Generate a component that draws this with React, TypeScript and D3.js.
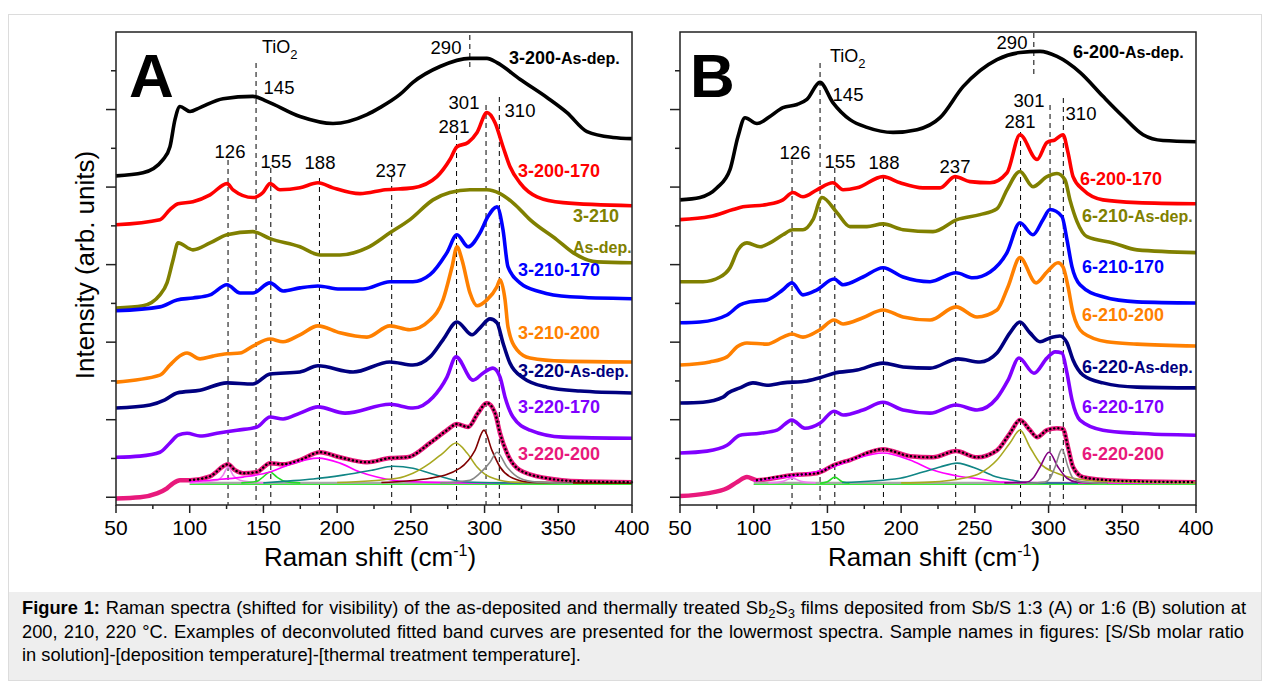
import React, { useLayoutEffect, useRef } from "react";
import * as d3 from "d3";

type Pt = [number, number];

const FONT = "'Liberation Sans', Arial, Helvetica, sans-serif";

// axis ticks
const xMajor = [50, 100, 150, 200, 250, 300, 350, 400];
const xMinor = [75, 125, 175, 225, 275, 325, 375];
const yTickVals = [0, 1, 2, 3, 4, 5, 6, 7, 8, 9, 10, 11];

// band positions (cm-1)
const peaks = [126, 145, 155, 188, 237, 281, 301, 310];
const broadPeak = 290;

// ---------- panel A : Sb/S 1:3 ----------
const a200AsDep: Pt[] = [[50,8.29],[68.3,8.37],[81.9,8.71],[86.6,9.04],[90,9.74],[93.4,10.08],[100.2,9.95],[107,10.05],[122.6,10.28],[142.9,10.34],[152.4,10.21],[174.8,9.82],[197.2,9.64],[220.2,9.87],[229,10.05],[242.6,10.39],[251.4,10.7],[269.8,11.11],[290.1,11.32],[301.6,11.32],[308.4,11.21],[324,10.78],[342.3,10.31],[355.9,9.92],[369.5,9.43],[387.1,9.28],[400,9.25]];
const a200_170: Pt[] = [[50,7.03],[79.8,7.16],[86.6,7.42],[92.1,7.57],[102.2,7.62],[113.8,7.8],[125.3,8.09],[129.4,7.93],[142.9,7.73],[149.7,7.86],[154.5,8.09],[161.2,7.93],[174.8,7.98],[187,8.11],[197.2,7.98],[215.5,7.83],[232.5,7.93],[251.4,7.98],[267.7,8.27],[276.5,8.71],[281.3,9.04],[288.8,9.15],[294.9,9.41],[301.6,9.92],[307.1,9.66],[312.5,9.04],[317.2,8.53],[324,8.11],[335.6,7.75],[353.2,7.6],[400,7.52]];
const a210AsDep: Pt[] = [[50,4.88],[68.3,4.94],[79.8,5.22],[84.6,5.53],[88.7,6.12],[92.1,6.56],[102.2,6.38],[113.8,6.56],[125.3,6.77],[142.9,6.85],[154.5,6.67],[174.8,6.46],[188.4,6.25],[201.9,6.25],[220.2,6.43],[235.8,6.82],[249.4,7.16],[265,7.67],[276.5,7.86],[290.1,7.93],[301.6,7.93],[310.5,7.83],[320.6,7.55],[330.8,7.16],[349.1,6.64],[360,6.31],[376.3,6.07],[400,6.05]];
const a210_170: Pt[] = [[50,4.81],[79.8,4.91],[91.4,5.09],[102.2,5.14],[113.8,5.22],[125.3,5.48],[134.1,5.27],[142.9,5.27],[154.5,5.53],[163.3,5.32],[174.8,5.4],[187,5.45],[201.9,5.37],[217.5,5.37],[235.8,5.56],[251.4,5.56],[263,5.74],[274.5,6.31],[281.3,6.77],[288.8,6.46],[296.9,6.82],[302.3,7.24],[308.4,7.49],[312.5,6.9],[315.9,5.94],[324,5.53],[337.6,5.3],[357.9,5.17],[400,5.12]];
const a210_200: Pt[] = [[50,2.97],[79.8,3.15],[86.6,3.41],[91.4,3.59],[98.2,3.72],[107,3.57],[115.8,3.64],[125.3,3.7],[134.1,3.72],[142.9,3.9],[154.5,4.08],[163.3,4.01],[174.8,4.19],[187,4.42],[201.9,4.24],[220.2,4.13],[235.8,4.42],[249.4,4.32],[263,4.57],[271.8,5.09],[277.9,5.94],[281.3,6.46],[284.7,6.12],[290.1,5.27],[294.9,4.94],[301.6,5.09],[308.4,5.43],[310.5,5.61],[313.9,5.09],[315.9,4.39],[322,3.8],[330.8,3.59],[353.2,3.51],[400,3.49]];
const a220AsDep: Pt[] = [[50,2.3],[73.1,2.38],[83.2,2.51],[91.4,2.69],[107,2.76],[125.3,2.95],[142.9,2.92],[154.5,3.18],[174.8,3.23],[187,3.39],[210.8,3.23],[235.8,3.49],[251.4,3.41],[263,3.62],[271.8,4.06],[281.3,4.52],[291.5,4.19],[296.9,4.37],[303.7,4.6],[308.4,4.5],[312.5,3.98],[317.2,3.46],[326.1,3.08],[342.3,2.84],[364.7,2.74],[400,2.69]];
const a220_170: Pt[] = [[50,1.03],[66.3,1.06],[79.8,1.16],[86.6,1.4],[92.1,1.6],[98.2,1.65],[107,1.58],[118.5,1.65],[132.1,1.73],[145.6,1.81],[154.5,2.07],[163.3,2.02],[174.8,2.17],[187,2.33],[205.3,2.17],[235.8,2.4],[251.4,2.3],[265,2.58],[274.5,3.1],[280.6,3.62],[292.2,3.02],[298.9,3.2],[305.7,3.33],[310.5,3.1],[313.9,2.58],[319.3,2.07],[330.8,1.73],[353.2,1.55],[400,1.52]];
const a220_200: Pt[] = [[50,-0.03],[66.3,0],[77.8,0.1],[84.6,0.23],[88.7,0.36],[93.4,0.44],[100.2,0.44],[113.8,0.54],[126,0.85],[130.7,0.7],[136.1,0.62],[145.6,0.65],[154.5,0.88],[163.3,0.85],[174.8,0.96],[188.4,1.16],[201.9,1.03],[220.2,0.9],[235.8,1.01],[247.4,1.03],[263,1.4],[274.5,1.73],[281.3,1.89],[288.8,1.81],[295.5,2.17],[301.6,2.43],[307.1,2.17],[310.5,1.65],[315.2,1.14],[324,0.7],[342.3,0.49],[364.7,0.41],[400,0.39]];

// fitted bands for 3-220-200
const aBand126: Pt[] = [[100,0.37],[118.5,0.44],[122.6,0.57],[126,0.78],[129.4,0.57],[134.1,0.44],[150,0.37]];
const aBand155: Pt[] = [[135,0.37],[145.6,0.41],[149.7,0.52],[154.5,0.65],[159.2,0.52],[164.6,0.41],[175,0.37]];
const aBand188: Pt[] = [[100,0.4],[113.8,0.44],[136.1,0.52],[154.5,0.65],[170.1,0.88],[187,1.01],[201.9,0.88],[215.5,0.65],[227,0.52],[237.9,0.44],[260,0.39],[300,0.37],[400,0.36]];
const aBand237: Pt[] = [[150,0.37],[163.3,0.41],[183.7,0.47],[204,0.57],[224,0.7],[238,0.8],[251.4,0.75],[263,0.62],[274.5,0.49],[285.4,0.4],[310,0.37],[400,0.36]];
const aBand281: Pt[] = [[200,0.38],[240.6,0.49],[251.4,0.62],[263,0.88],[271.8,1.14],[280.6,1.4],[288.1,1.14],[294.9,0.78],[303.7,0.52],[319.3,0.39],[350,0.37],[400,0.36]];
const aBand301: Pt[] = [[230,0.38],[263,0.49],[283.3,0.75],[293.5,1.21],[299.6,1.73],[305,1.21],[310.5,0.78],[319.3,0.49],[330.8,0.39],[360,0.37],[400,0.36]];
const aBand310: Pt[] = [[270,0.37],[290.1,0.44],[296.9,0.62],[303.7,0.9],[308.4,1.16],[315.2,0.78],[324,0.49],[335.6,0.39],[360,0.36]];
const aBaseline: Pt[] = [[100,0.36],[400,0.36]];

// ---------- panel B : Sb/S 1:6 ----------
const b200AsDep: Pt[] = [[50,7.67],[63.6,7.73],[75.1,7.98],[83.9,8.45],[89.3,9.3],[94.1,9.79],[102.2,9.64],[111,9.82],[119.8,10.05],[129.4,10.13],[136.1,10.26],[144.9,10.7],[153.7,10.18],[165.3,9.74],[176.8,9.54],[194.5,9.41],[210.8,9.48],[226.4,9.79],[242,10.59],[265,11.29],[280.6,11.47],[294.2,11.5],[305.7,11.37],[321.3,10.96],[336.9,10.34],[350.5,9.82],[364.1,9.35],[377.6,9.2],[400,9.17]];
const b200_170: Pt[] = [[50,7.16],[70.3,7.24],[86,7.42],[92.7,7.49],[109,7.55],[119.8,7.67],[126.6,7.86],[133.4,7.75],[142.9,7.93],[153.7,8.11],[160.6,7.93],[170.1,7.98],[187.7,8.27],[199.3,8.11],[214.8,7.98],[226.4,7.98],[236.5,8.27],[246.7,8.14],[260.3,8.11],[271.8,8.37],[280.6,9.35],[292.2,8.71],[298.9,9.15],[304.4,9.22],[309.8,9.35],[313.2,8.89],[316.6,8.27],[323.4,7.93],[336.9,7.67],[360,7.6],[400,7.57]];
const b210AsDep: Pt[] = [[50,5.56],[65.6,5.56],[77.1,5.68],[83.9,5.92],[89.3,6.38],[95.4,6.56],[104.3,6.46],[111,6.56],[119.8,6.77],[126.6,6.9],[133.4,6.9],[140.2,7.16],[146.3,7.73],[156.5,7.34],[165.3,6.98],[176.8,6.98],[187.7,7.05],[201.3,6.9],[221.6,6.85],[237.9,7.16],[253.5,7.29],[265,7.44],[271.8,7.93],[280.6,8.4],[289.4,8.01],[298.9,8.27],[305.7,8.35],[311.1,8.19],[314.5,7.67],[319.3,7.11],[326.1,6.72],[343.7,6.56],[360,6.38],[400,6.31]];
const b210_170: Pt[] = [[50,4.5],[63.6,4.52],[81.9,4.7],[90.7,4.96],[97.5,5.04],[109,5.09],[119.8,5.35],[125.9,5.53],[133.4,5.22],[142.9,5.35],[154.5,5.63],[160.6,5.48],[174.1,5.68],[187.7,5.92],[201.3,5.68],[219.6,5.56],[237.2,5.79],[248.7,5.66],[260.3,5.81],[271.8,6.31],[280.6,7.08],[289.4,6.77],[296.2,7.16],[301,7.42],[309.1,7.24],[312.5,6.64],[315.9,5.94],[321.3,5.48],[336.9,5.17],[360,5.04],[400,5.01]];
const b210_200: Pt[] = [[50,3.41],[70.3,3.49],[81.9,3.62],[88.7,3.88],[95.4,3.98],[109,3.95],[119.8,4.13],[125.9,4.21],[133.4,4.13],[144.9,4.32],[154.5,4.57],[160.6,4.47],[174.1,4.63],[187.7,4.83],[201.3,4.65],[219.6,4.57],[237.2,4.91],[251.5,4.65],[265,4.83],[272.5,5.43],[280.6,6.18],[291.5,5.53],[298.9,5.81],[306.4,6.05],[309.8,5.94],[313.2,5.43],[316.6,4.75],[323.4,4.24],[339.6,4.01],[360,3.95],[400,3.9]];
const b220AsDep: Pt[] = [[50,2.43],[65.6,2.45],[79.2,2.58],[82.6,2.69],[90.7,2.82],[99.5,2.95],[109,2.89],[119.8,2.95],[136.1,3],[144.9,3.08],[154.5,3.2],[170.1,3.28],[187.7,3.46],[201.3,3.36],[219.6,3.33],[238.6,3.57],[253.5,3.49],[265,3.72],[273.8,4.24],[280.6,4.52],[287.4,4.24],[294.2,4.01],[301,4.11],[307.7,4.16],[312.5,3.98],[316.6,3.54],[323.4,3.15],[336.9,2.95],[360,2.84],[400,2.82]];
const b220_170: Pt[] = [[50,1.14],[68.3,1.19],[81.9,1.34],[90.7,1.6],[104.3,1.65],[115.8,1.73],[125.9,1.99],[134.7,1.78],[144.9,1.91],[154.5,2.22],[160.6,2.12],[174.1,2.25],[187.7,2.45],[201.3,2.25],[219.6,2.17],[237.2,2.38],[251.5,2.25],[265,2.56],[272.5,3.02],[279.9,3.59],[290.1,3.2],[298.9,3.59],[304.4,3.75],[309.1,3.72],[312.5,3.2],[315.9,2.51],[321.3,1.99],[336.9,1.73],[360,1.65],[400,1.6]];
const b220_200: Pt[] = [[50,0.03],[68.3,0.1],[81.9,0.23],[88.7,0.39],[95.4,0.52],[102.2,0.44],[125.9,0.57],[142.9,0.62],[154.5,0.83],[165.3,0.96],[187.7,1.24],[206,1.06],[221.6,1.03],[237.2,1.19],[251.5,1.03],[265,1.21],[273.8,1.65],[280.6,1.99],[287.4,1.73],[292.2,1.55],[298.9,1.73],[305.7,1.78],[309.8,1.76],[313.2,1.29],[316.6,0.78],[323.4,0.52],[339.6,0.44],[360,0.41],[400,0.39]];

// fitted bands for 6-220-200
const bBand126: Pt[] = [[110,0.37],[120,0.41],[126,0.5],[132,0.41],[142,0.37]];
const bBand155: Pt[] = [[145,0.36],[150,0.4],[155,0.52],[160,0.4],[165,0.36]];
const bBand188: Pt[] = [[100,0.42],[115.8,0.49],[131.4,0.57],[153.7,0.78],[170.1,1.01],[187.7,1.14],[206,0.96],[221.6,0.7],[237.9,0.55],[253.5,0.47],[269.1,0.39],[320,0.37],[400,0.36]];
const bBand237: Pt[] = [[160,0.38],[199.3,0.49],[214.8,0.65],[226.4,0.78],[237.9,0.88],[253.5,0.7],[265,0.52],[275.9,0.44],[287.4,0.37],[320,0.36]];
const bBand281: Pt[] = [[200,0.37],[219.6,0.39],[241.9,0.49],[253.5,0.62],[265,0.96],[273.8,1.4],[280.6,1.73],[287.4,1.29],[294.2,0.88],[305.7,0.62],[316.6,0.49],[340,0.4],[400,0.37]];
const bBand301: Pt[] = [[270,0.37],[285.4,0.39],[289.4,0.49],[294.2,0.78],[300.3,1.16],[306.4,0.78],[312.5,0.49],[319.3,0.39],[340,0.36]];
const bBand310: Pt[] = [[285,0.36],[297.6,0.39],[301,0.49],[304.4,0.78],[309.1,1.24],[313.2,0.78],[316.6,0.49],[323.4,0.39],[340,0.36]];
const bBaseline: Pt[] = [[100,0.36],[400,0.36]];

const sampleNamesA = ["3-200-As-dep.", "3-200-170", "3-210", "3-210-170", "3-210-200", "3-220-As-dep.", "3-220-170", "3-220-200"];
const sampleNamesB = ["6-200-As-dep.", "6-200-170", "6-210-As-dep.", "6-210-170", "6-210-200", "6-220-As-dep.", "6-220-170", "6-220-200"];

// ---------- styling / layout ----------
const curveColors = ["#000000", "#ff0000", "#808000", "#0000ff", "#ff8000", "#000080", "#8000ff", "#e8197c"];
const PLOT_W = 516;
const TOP = 32;
const BOTTOM = 505;

type Label = { x: number; y: number };
type PanelProps = {
  letter: string;
  left: number;
  series: Pt[][];
  bands: { pts: Pt[]; color: string }[];
  baseline: Pt[];
  names: string[];
  nameAt: Label[];
  peakTops: number[];
  peakLabelAt: Label[];
  broadAt: Label;
  broadRange: [number, number];
  tioAt: Label;
};

function SampleLabel({ name, at, color }: { name: string; at: Label; color: string }) {
  const i = name.indexOf("As-dep.");
  return (
    <text x={at.x} y={at.y} fill={color} fontFamily={FONT} fontWeight="bold" fontSize={18}>
      {i < 0 ? name : <>
        {name.slice(0, i)}<tspan fontSize={16}>As-dep.</tspan>
      </>}
    </text>
  );
}

// caption line, word gaps widened a little if it falls short of the width
function Justified({ x, y, width, children }: { x: number; y: number; width: number; children: React.ReactNode }) {
  const ref = useRef<SVGTextElement>(null);
  useLayoutEffect(() => {
    const el = ref.current;
    if (!el) return;
    el.removeAttribute("word-spacing");
    const len = el.getComputedTextLength();
    const gaps = (el.textContent || "").split(" ").length - 1;
    if (gaps > 0 && len < width) el.setAttribute("word-spacing", String((width - len) / gaps));
  }, [width]);
  return (
    <text ref={ref} x={x} y={y} fontFamily={FONT} fontSize={18.3}>{children}</text>
  );
}

function Panel(p: PanelProps) {
  const x = d3.scaleLinear().domain([50, 400]).range([p.left, p.left + PLOT_W]);
  const y = d3.scaleLinear().domain([-0.2, 12]).range([BOTTOM, TOP]);
  const line = d3.line<Pt>().x(d => x(d[0])).y(d => y(d[1])).curve(d3.curveMonotoneX);
  const fit = p.series[7].filter(d => d[0] >= 100);

  return (
    <g>
      {/* dashed band markers */}
      {peaks.map((pk, i) => (
        <line key={pk} x1={x(pk)} x2={x(pk)} y1={p.peakTops[i]} y2={BOTTOM}
          stroke="#000" strokeWidth={1} strokeDasharray="5,4" />
      ))}
      <line x1={x(broadPeak)} x2={x(broadPeak)} y1={p.broadRange[0]} y2={p.broadRange[1]}
        stroke="#000" strokeWidth={1} strokeDasharray="5,4" />

      {/* spectra */}
      {p.series.map((s, i) => (
        <path key={i} d={line(s) || ""} fill="none" stroke={curveColors[i]}
          strokeWidth={i === 7 ? 4.5 : 3.6} strokeLinejoin="round" />
      ))}
      <path d={line(p.baseline) || ""} stroke="#a8a8a8" strokeWidth={3} fill="none" />
      <path d={line(p.baseline.map(d => [d[0], d[1] - 0.03] as Pt)) || ""} stroke="#33ee33" strokeWidth={1} fill="none" />
      {p.bands.map((b, i) => (
        <path key={i} d={line(b.pts) || ""} fill="none" stroke={b.color} strokeWidth={1.6} />
      ))}
      <path d={line(fit) || ""} fill="none" stroke="#000" strokeWidth={2.4}
        strokeDasharray="0.1,4" strokeLinecap="round" />

      {/* frame */}
      <rect x={p.left} y={TOP} width={PLOT_W} height={BOTTOM - TOP} fill="none" stroke="#222" strokeWidth={1.5} />
      {xMajor.map(t => (
        <g key={t}>
          <line x1={x(t)} x2={x(t)} y1={BOTTOM} y2={BOTTOM + 8} stroke="#222" strokeWidth={1.5} />
          <text x={x(t)} y={BOTTOM + 30} textAnchor="middle" fontFamily={FONT} fontSize={21}>{t}</text>
        </g>
      ))}
      {xMinor.map(t => (
        <line key={t} x1={x(t)} x2={x(t)} y1={BOTTOM} y2={BOTTOM + 4} stroke="#222" strokeWidth={1.5} />
      ))}
      {yTickVals.map(t => (
        <line key={t} x1={p.left - (t % 2 === 0 ? 10 : 5)} x2={p.left} y1={y(t)} y2={y(t)} stroke="#222" strokeWidth={1.5} />
      ))}
      <text x={p.left + PLOT_W / 2 - 4} y={566} textAnchor="middle" fontFamily={FONT} fontSize={26}>
        Raman shift (cm<tspan fontSize={16} dy={-10}>-1</tspan><tspan dy={10}>)</tspan>
      </text>

      {/* annotations */}
      <text x={p.left + (p.letter === "A" ? 13 : 10)} y={97} fontFamily={FONT} fontWeight="bold" fontSize={62}>{p.letter}</text>
      <text x={p.tioAt.x} y={p.tioAt.y} fontFamily={FONT} fontSize={18}>
        TiO<tspan fontSize={13} dy={6}>2</tspan>
      </text>
      {peaks.map((pk, i) => (
        <text key={pk} x={p.peakLabelAt[i].x} y={p.peakLabelAt[i].y} textAnchor="middle" fontFamily={FONT} fontSize={18.5}>{pk}</text>
      ))}
      <text x={p.broadAt.x} y={p.broadAt.y} textAnchor="middle" fontFamily={FONT} fontSize={18.5}>{broadPeak}</text>
      {p.names.map((n, i) => (
        <SampleLabel key={n} name={n} at={p.nameAt[i]} color={curveColors[i]} />
      ))}
    </g>
  );
}

export default function App() {
  const bandsA = [
    { pts: aBand126, color: "#f080f0" },
    { pts: aBand155, color: "#22dd22" },
    { pts: aBand188, color: "#ff00ff" },
    { pts: aBand237, color: "#108585" },
    { pts: aBand281, color: "#a8a820" },
    { pts: aBand301, color: "#800000" },
    { pts: aBand310, color: "#888888" },
  ];
  const bandsB = [
    { pts: bBand126, color: "#f080f0" },
    { pts: bBand155, color: "#22dd22" },
    { pts: bBand188, color: "#ff00ff" },
    { pts: bBand237, color: "#108585" },
    { pts: bBand281, color: "#a8a820" },
    { pts: bBand301, color: "#800080" },
    { pts: bBand310, color: "#888888" },
  ];

  return (
    <svg width={1270} height={684} style={{ position: "absolute", left: 0, top: 0, background: "#fff" }}>
      <rect x={8.5} y={14.5} width={1253} height={666} fill="#fff" stroke="#dcdcdc" />
      <rect x={9} y={592} width={1252} height={88} fill="#eeeeee" />

      <text transform="translate(94,265) rotate(-90)" textAnchor="middle" fontFamily={FONT} fontSize={26}>
        Intensity (arb. units)
      </text>

      <Panel letter="A" left={116}
        series={[a200AsDep, a200_170, a210AsDep, a210_170, a210_200, a220AsDep, a220_170, a220_200]}
        bands={bandsA} baseline={aBaseline}
        names={sampleNamesA}
        nameAt={[{ x: 509, y: 64 }, { x: 518, y: 177 }, { x: 573, y: 222 }, { x: 518, y: 276 }, { x: 518, y: 339 }, { x: 518, y: 377 }, { x: 518, y: 413 }, { x: 518, y: 460 }]}
        peakTops={[160, 63, 168, 178, 177, 135, 105, 97]}
        peakLabelAt={[{ x: 230, y: 158 }, { x: 279, y: 94 }, { x: 276, y: 168 }, { x: 320, y: 169 }, { x: 391, y: 177 }, { x: 454, y: 133 }, { x: 464, y: 109 }, { x: 520, y: 117 }]}
        broadAt={{ x: 446, y: 54 }} broadRange={[35, 70]}
        tioAt={{ x: 262, y: 53 }}
      />
      <text x={573} y={253} fill="#808000" fontFamily={FONT} fontWeight="bold" fontSize={16}>As-dep.</text>

      <Panel letter="B" left={680}
        series={[b200AsDep, b200_170, b210AsDep, b210_170, b210_200, b220AsDep, b220_170, b220_200]}
        bands={bandsB} baseline={bBaseline}
        names={sampleNamesB}
        nameAt={[{ x: 1073, y: 58 }, { x: 1080, y: 185 }, { x: 1082, y: 222 }, { x: 1082, y: 273 }, { x: 1082, y: 321 }, { x: 1082, y: 373 }, { x: 1082, y: 413 }, { x: 1082, y: 460 }]}
        peakTops={[160, 63, 168, 177, 177, 132, 105, 98]}
        peakLabelAt={[{ x: 795, y: 159 }, { x: 848, y: 101 }, { x: 840, y: 168 }, { x: 884, y: 169 }, { x: 955, y: 173 }, { x: 1020, y: 128 }, { x: 1029, y: 107 }, { x: 1081, y: 120 }]}
        broadAt={{ x: 1012, y: 49 }} broadRange={[33, 77]}
        tioAt={{ x: 830, y: 62 }}
      />

      <Justified x={22} y={614} width={1224}>
        <tspan fontWeight="bold">Figure 1:</tspan> Raman spectra (shifted for visibility) of the as-deposited and thermally treated Sb<tspan fontSize={13} dy={4}>2</tspan><tspan dy={-4}>S</tspan><tspan fontSize={13} dy={4}>3</tspan><tspan dy={-4}> films deposited from Sb/S 1:3 (A) or 1:6 (B) solution at</tspan>
      </Justified>
      <Justified x={22} y={638} width={1222}>
        200, 210, 220 °C. Examples of deconvoluted fitted band curves are presented for the lowermost spectra. Sample names in figures: [S/Sb molar ratio
      </Justified>
      <text x={22} y={661} fontFamily={FONT} fontSize={18.3}>
        in solution]-[deposition temperature]-[thermal treatment temperature].
      </text>
    </svg>
  );
}
